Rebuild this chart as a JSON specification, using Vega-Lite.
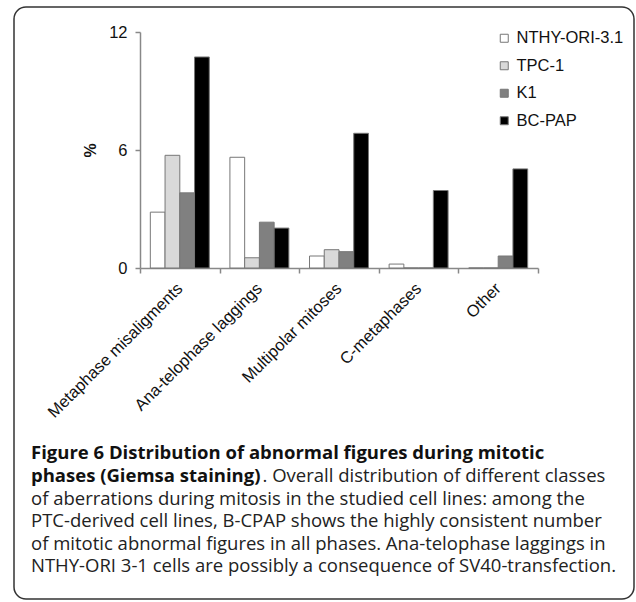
{
  "$schema": "https://vega.github.io/schema/vega-lite/v6.json",
  "width": 620,
  "height": 592,
  "autosize": {"type": "none"},
  "padding": {"left": 14, "top": 7, "right": 2, "bottom": 3},
  "background": "white",
  "config": {
    "view": {"stroke": "#333333", "strokeWidth": 1.5, "cornerRadius": 12},
    "font": "Liberation Sans"
  },
  "title": {
    "text": ["Figure 6 Distribution of abnormal figures during mitotic", "phases (Giemsa staining)"],
    "subtitle": [
      "of aberrations during mitosis in the studied cell lines: among the",
      "PTC-derived cell lines, B-CPAP shows the highly consistent number",
      "of mitotic abnormal figures in all phases. Ana-telophase laggings in",
      "NTHY-ORI 3-1 cells are possibly a consequence of SV40-transfection."
    ],
    "orient": "bottom",
    "anchor": "start",
    "frame": "group",
    "offset": -155,
    "dx": 17,
    "font": "Open Sans",
    "fontSize": 18.5,
    "fontWeight": "bold",
    "lineHeight": 22.6,
    "color": "#111111",
    "subtitleFont": "Open Sans",
    "subtitleFontSize": 18.5,
    "subtitleLineHeight": 22.6,
    "subtitleColor": "#222222",
    "subtitlePadding": 4.5
  },
  "data": {
    "values": [
      {"cat": "Metaphase misaligments", "series": "NTHY-ORI-3.1", "value": 2.84},
      {"cat": "Metaphase misaligments", "series": "TPC-1", "value": 5.73},
      {"cat": "Metaphase misaligments", "series": "K1", "value": 3.82},
      {"cat": "Metaphase misaligments", "series": "BC-PAP", "value": 10.73},
      {"cat": "Ana-telophase laggings", "series": "NTHY-ORI-3.1", "value": 5.63},
      {"cat": "Ana-telophase laggings", "series": "TPC-1", "value": 0.52},
      {"cat": "Ana-telophase laggings", "series": "K1", "value": 2.33},
      {"cat": "Ana-telophase laggings", "series": "BC-PAP", "value": 2.03},
      {"cat": "Multipolar mitoses", "series": "NTHY-ORI-3.1", "value": 0.61},
      {"cat": "Multipolar mitoses", "series": "TPC-1", "value": 0.93},
      {"cat": "Multipolar mitoses", "series": "K1", "value": 0.83},
      {"cat": "Multipolar mitoses", "series": "BC-PAP", "value": 6.85},
      {"cat": "C-metaphases", "series": "NTHY-ORI-3.1", "value": 0.2},
      {"cat": "C-metaphases", "series": "TPC-1", "value": 0},
      {"cat": "C-metaphases", "series": "K1", "value": 0},
      {"cat": "C-metaphases", "series": "BC-PAP", "value": 3.94},
      {"cat": "Other", "series": "NTHY-ORI-3.1", "value": 0},
      {"cat": "Other", "series": "TPC-1", "value": 0},
      {"cat": "Other", "series": "K1", "value": 0.61},
      {"cat": "Other", "series": "BC-PAP", "value": 5.04}
    ]
  },
  "mark": {"type": "bar", "stroke": "#777777", "strokeWidth": 1, "fillOpacity": 1},
  "encoding": {
    "x": {
      "field": "cat",
      "type": "nominal",
      "sort": ["Metaphase misaligments", "Ana-telophase laggings", "Multipolar mitoses", "C-metaphases", "Other"],
      "scale": {"range": [126, 524], "paddingInner": 0, "paddingOuter": 0},
      "axis": {
        "orient": "bottom",
        "offset": -331,
        "domainColor": "#888888",
        "domainWidth": 1.5,
        "tickColor": "#888888",
        "tickWidth": 1.5,
        "tickSize": 5,
        "tickBand": "extent",
        "labelAngle": -45,
        "labelFontSize": 16.5,
        "labelColor": "#111111",
        "labelPadding": 7,
        "labelOffset": -6,
        "labelLimit": 400,
        "labelOverlap": false,
        "title": ". Overall distribution of different classes",
        "titleFont": "Open Sans",
        "titleFontSize": 18.5,
        "titleFontWeight": "normal",
        "titleColor": "#222222",
        "titleAlign": "left",
        "titleBaseline": "alphabetic",
        "titleAngle": 0,
        "titleX": 248,
        "titleY": 213
      }
    },
    "xOffset": {
      "field": "series",
      "type": "nominal",
      "sort": ["NTHY-ORI-3.1", "TPC-1", "K1", "BC-PAP"],
      "scale": {"paddingInner": 0, "paddingOuter": 0.7}
    },
    "y": {
      "field": "value",
      "type": "quantitative",
      "scale": {"domain": [0, 12], "nice": false, "range": [261, 25]},
      "axis": {
        "orient": "left",
        "offset": -126,
        "values": [0, 6, 12],
        "grid": false,
        "domainColor": "#888888",
        "domainWidth": 1.5,
        "tickColor": "#888888",
        "tickWidth": 1.5,
        "tickSize": 5,
        "labelFontSize": 16.5,
        "labelColor": "#111111",
        "labelPadding": 8,
        "title": "%",
        "titleFontSize": 16,
        "titleFontWeight": "bold",
        "titleColor": "#111111",
        "titlePadding": 10
      }
    },
    "color": {
      "field": "series",
      "type": "nominal",
      "sort": ["NTHY-ORI-3.1", "TPC-1", "K1", "BC-PAP"],
      "scale": {
        "domain": ["NTHY-ORI-3.1", "TPC-1", "K1", "BC-PAP"],
        "range": ["#ffffff", "#d9d9d9", "#808080", "#000000"]
      },
      "legend": {
        "orient": "none",
        "legendX": 482,
        "legendY": 23,
        "title": null,
        "symbolType": "square",
        "symbolSize": 64,
        "symbolStrokeColor": "#777777",
        "symbolStrokeWidth": 1,
        "symbolOpacity": 1,
        "labelFontSize": 16.5,
        "labelColor": "#111111",
        "labelOffset": 4,
        "rowPadding": 10.5
      }
    }
  }
}
